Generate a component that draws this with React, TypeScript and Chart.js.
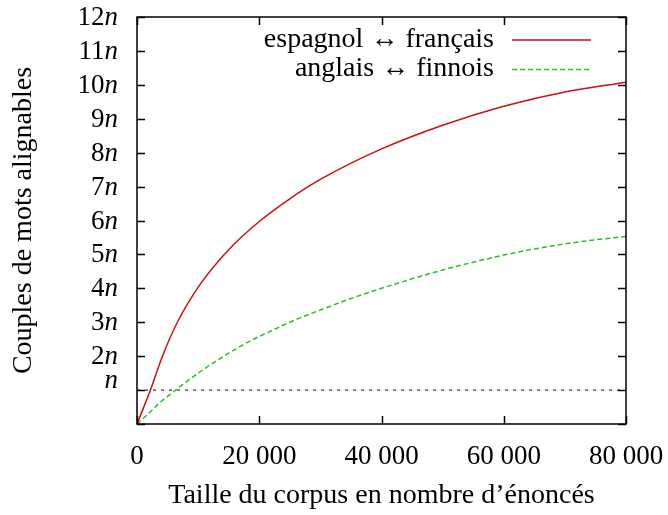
import React, { useEffect, useRef } from 'react';
import { Chart, registerables } from 'chart.js';

Chart.register(...registerables);

const SERIF = '"Liberation Serif", "DejaVu Serif", "Times New Roman", serif';
const FONT_SIZE = 27;
const TITLE_SIZE = 28;

// ---- tick labels ----
const xTickValues = [0, 20000, 40000, 60000, 80000];
const yTickLabels = ['', 'n', '2n', '3n', '4n', '5n', '6n', '7n', '8n', '9n', '10n', '11n', '12n'];

// ---- titles / legend labels ----
const xTitle = 'Taille du corpus en nombre d’énoncés';
const yTitle = 'Couples de mots alignables';
const seriesLabels = ['espagnol ↔ français', 'anglais ↔ finnois'];

// ---- series: espagnol ↔ français ----
const esFrSize = [0, 2200, 4100, 6600, 10300, 15000, 20000, 25000, 30000, 40000, 50000, 60000, 70000, 80000];
const esFrPairs = [0, 1.0, 1.97, 3.0, 4.11, 5.14, 5.97, 6.64, 7.21, 8.11, 8.81, 9.37, 9.79, 10.08];

// ---- series: anglais ↔ finnois ----
const enFiSize = [0, 2000, 4000, 6300, 10000, 14200, 18000, 22000, 26000, 30000, 35000, 40000, 45000, 50000, 55000, 60000, 65000, 70000, 75000, 80000];
const enFiPairs = [0, 0.33, 0.67, 1.0, 1.5, 2.0, 2.4, 2.75, 3.08, 3.36, 3.7, 4.0, 4.28, 4.54, 4.77, 4.98, 5.16, 5.31, 5.43, 5.53];

// ---- reference level (n) ----
const referenceLevel = 1;

const fmtThousands = (v: number) => {
  const s = String(Math.round(v));
  return s.replace(/\B(?=(\d{3})+(?!\d))/g, ' ');
};

const framePlugin = {
  id: 'framePlugin',
  afterDatasetsDraw(chart: any) {
    const { ctx, chartArea: a, scales } = chart;
    const x = scales.x;
    const y = scales.y;
    ctx.save();
    ctx.strokeStyle = '#000';
    ctx.lineWidth = 1.5;
    const TL = 8;
    ctx.beginPath();
    xTickValues.forEach((v) => {
      const px = Math.round(x.getPixelForValue(v)) + 0.5;
      ctx.moveTo(px, a.bottom);
      ctx.lineTo(px, a.bottom - TL);
      ctx.moveTo(px, a.top);
      ctx.lineTo(px, a.top + TL);
    });
    yTickLabels.forEach((_, i) => {
      const py = Math.round(y.getPixelForValue(i)) + 0.5;
      ctx.moveTo(a.left, py);
      ctx.lineTo(a.left + TL, py);
      ctx.moveTo(a.right, py);
      ctx.lineTo(a.right - TL, py);
    });
    ctx.stroke();
    ctx.strokeRect(a.left, a.top, a.right - a.left, a.bottom - a.top);

    // y tick labels: coefficient upright, n italic
    ctx.fillStyle = '#000';
    ctx.textAlign = 'right';
    ctx.textBaseline = 'alphabetic';
    const labelRight = a.left - 19;
    yTickLabels.forEach((lab, i) => {
      if (!lab) return;
      const py = y.getPixelForValue(i);
      const coef = lab.slice(0, -1);
      const letter = lab.slice(-1);
      const base = coef ? py + 8 : py - 2;
      ctx.font = `italic ${FONT_SIZE}px ${SERIF}`;
      const w = ctx.measureText(letter).width;
      ctx.fillText(letter, labelRight, base);
      if (coef) {
        ctx.font = `${FONT_SIZE}px ${SERIF}`;
        ctx.fillText(coef, labelRight - w, base);
      }
    });

    // legend (top right, text right-aligned, sample to the right)
    const textRight = 494;
    const sampleL = 512;
    const sampleR = 591;
    const rows = [{ base: 47, line: 40 }, { base: 76, line: 69.5 }];
    chart.data.datasets.slice(0, 2).forEach((ds: any, i: number) => {
      const r = rows[i];
      ctx.font = `${TITLE_SIZE}px ${SERIF}`;
      ctx.textAlign = 'right';
      ctx.fillStyle = '#000';
      ctx.fillText(ds.label, textRight, r.base);
      ctx.beginPath();
      ctx.strokeStyle = ds.borderColor;
      ctx.lineWidth = ds.borderWidth;
      ctx.setLineDash(ds.borderDash || []);
      ctx.moveTo(sampleL, r.line);
      ctx.lineTo(sampleR, r.line);
      ctx.stroke();
      ctx.setLineDash([]);
    });
    ctx.restore();
  },
};

export default function App() {
  const ref = useRef<HTMLCanvasElement>(null);

  useEffect(() => {
    if (!ref.current) return;
    const chart = new Chart(ref.current, {
      type: 'line',
      data: {
        datasets: [
          {
            label: seriesLabels[0],
            data: esFrSize.map((v, i) => ({ x: v, y: esFrPairs[i] })),
            borderColor: '#cc1010',
            borderWidth: 1.5,
            pointRadius: 0,
            cubicInterpolationMode: 'monotone',
            fill: false,
          },
          {
            label: seriesLabels[1],
            data: enFiSize.map((v, i) => ({ x: v, y: enFiPairs[i] })),
            borderColor: '#22c322',
            borderWidth: 1.5,
            borderDash: [5, 3],
            pointRadius: 0,
            cubicInterpolationMode: 'monotone',
            fill: false,
          },
          {
            label: 'n',
            data: [
              { x: xTickValues[0], y: referenceLevel },
              { x: xTickValues[xTickValues.length - 1], y: referenceLevel },
            ],
            borderColor: '#000',
            borderWidth: 1,
            borderDash: [3, 5],
            pointRadius: 0,
            fill: false,
          },
        ],
      } as any,
      options: {
        responsive: false,
        animation: false,
        devicePixelRatio: 1,
        layout: { padding: { left: 0, right: 42, top: 17, bottom: 0 } },
        plugins: { legend: { display: false }, tooltip: { enabled: false } },
        scales: {
          x: {
            type: 'linear',
            min: 0,
            max: 80000,
            afterBuildTicks: (s: any) => {
              s.ticks = xTickValues.map((v) => ({ value: v }));
            },
            afterFit: (s: any) => {
              s.height = 91;
              s.paddingLeft = 0;
              s.paddingRight = 0;
            },
            ticks: {
              callback: (v: any) => fmtThousands(Number(v)),
              font: { family: SERIF, size: FONT_SIZE },
              color: '#000',
              padding: 9,
              maxRotation: 0,
              autoSkip: false,
            },
            grid: { display: false },
            border: { display: false },
            title: {
              display: true,
              text: xTitle,
              color: '#000',
              font: { family: SERIF, size: TITLE_SIZE },
              padding: { top: 0, bottom: 3 },
            },
          },
          y: {
            type: 'linear',
            min: 0,
            max: 12,
            afterBuildTicks: (s: any) => {
              s.ticks = yTickLabels.map((_, i) => ({ value: i }));
            },
            afterFit: (s: any) => {
              s.width = 137;
              s.paddingTop = 0;
              s.paddingBottom = 0;
            },
            ticks: { display: false },
            grid: { display: false },
            border: { display: false },
            title: {
              display: true,
              text: yTitle,
              color: '#000',
              font: { family: SERIF, size: TITLE_SIZE },
              padding: { top: 7, bottom: 0 },
            },
          },
        },
      } as any,
      plugins: [framePlugin],
    });
    return () => chart.destroy();
  }, []);

  return (
    <div style={{ position: 'absolute', left: 0, top: 0, width: 668, height: 515 }}>
      <canvas ref={ref} width={668} height={515} style={{ display: 'block' }} />
    </div>
  );
}
